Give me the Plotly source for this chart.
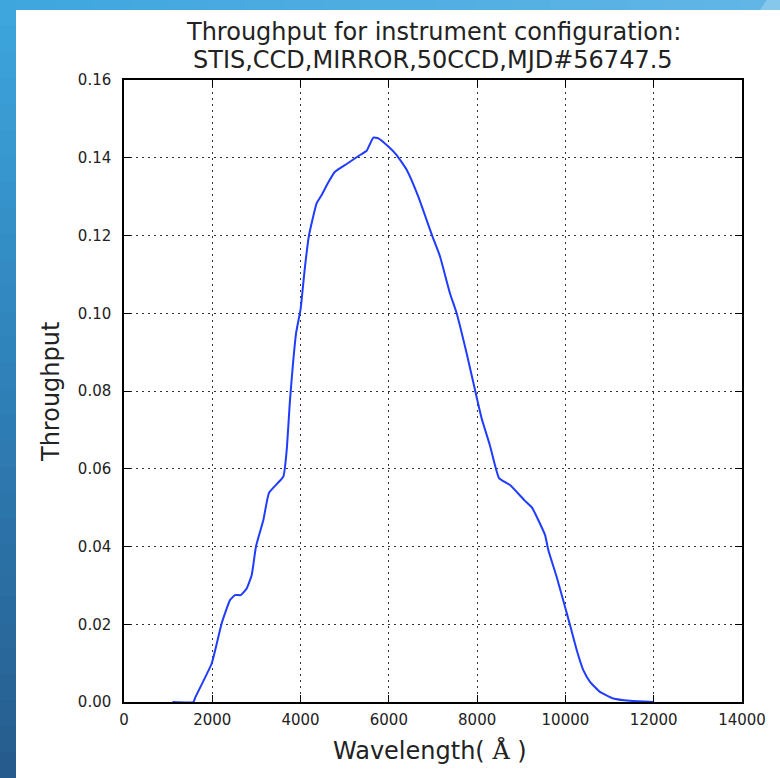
import plotly.graph_objects as go

wavelength = [1100, 1570, 1620, 1986, 2212, 2401, 2515, 2643, 2779, 2892, 2990, 3157, 3285,
              3610, 3685, 3761, 3900, 4000, 4100, 4190, 4365, 4478, 4620, 4780, 5044, 5346, 5497,
              5648, 5761, 5988, 6177, 6403, 6667, 6970, 7159, 7385, 7536, 7762, 7951, 8101,
              8290, 8495, 8745, 9062, 9243, 9537, 9612, 9801, 9990, 10104, 10255, 10405,
              10557, 10783, 11084, 11462, 11990]
throughput = [0.0, 0.0, 0.0013, 0.0099, 0.0202, 0.0262, 0.0275, 0.0275, 0.0292, 0.0326, 0.040,
              0.0468, 0.0538, 0.058, 0.0647, 0.0777, 0.095, 0.101, 0.112, 0.120, 0.1283,
              0.1304, 0.1335, 0.1364, 0.1384, 0.1407, 0.1418, 0.1452, 0.145, 0.1429, 0.1407, 0.1369,
              0.130, 0.1203, 0.1146, 0.1051, 0.100, 0.0897, 0.0803, 0.073, 0.066, 0.0576,
              0.0558, 0.052, 0.050, 0.043, 0.0391, 0.0322, 0.0245, 0.0198, 0.0134, 0.0082,
              0.0052, 0.0026, 0.0009, 0.0003, 0.0]

title_lines = ["Throughput for instrument configuration:", "STIS,CCD,MIRROR,50CCD,MJD#56747.5"]
x_title = "Wavelength( <span style='font-family:DejaVu Serif'>Å</span> )"
y_title = "Throughput"

W, H = 780, 778
L, R, T, B = 124, 38, 80, 76
pw, ph = W - L - R, H - T - B


def px2x(p):
    return (p - L) / pw


def px2y(p):
    return (H - B - p) / ph


def lerp(c1, c2, f):
    return "#" + "".join("%02x" % round(a + (b - a) * f) for a, b in zip(c1, c2))


shapes = []
# left gradient strip
top_c, mid_c, bot_c = (62, 166, 222), (47, 128, 184), (38, 91, 140)
n = 30
for i in range(n):
    y0, y1 = i * H / n, (i + 1) * H / n + 1
    f = (i + 0.5) / n
    c = lerp(top_c, mid_c, f * 2) if f < 0.5 else lerp(mid_c, bot_c, (f - 0.5) * 2)
    shapes.append(dict(type="rect", xref="paper", yref="paper", layer="below",
                       x0=px2x(-2), x1=px2x(16.5), y0=px2y(y0), y1=px2y(y1),
                       line=dict(width=0), fillcolor=c))
# top strip
m = 20
for i in range(m):
    x0, x1 = 16 + i * (W - 16) / m, 16 + (i + 1) * (W - 16) / m + 1
    c = lerp((62, 166, 222), (98, 182, 230), (i + 0.5) / m)
    shapes.append(dict(type="rect", xref="paper", yref="paper", layer="below",
                       x0=px2x(x0), x1=px2x(x1), y0=px2y(-2), y1=px2y(10),
                       line=dict(width=0), fillcolor=c))
shapes.append(dict(type="path", xref="paper", yref="paper", layer="below",
                   path="M %f,%f L %f,%f L %f,%f L %f,%f Z" % (
                       px2x(768), px2y(-2), px2x(782), px2y(-2), px2x(782), px2y(10), px2x(760), px2y(10)),
                   line=dict(width=0), fillcolor="#86c8ec"))
# white panel
shapes.append(dict(type="rect", xref="paper", yref="paper", layer="below",
                   x0=px2x(16), x1=px2x(782), y0=px2y(10), y1=px2y(782),
                   line=dict(width=0), fillcolor="white"))

fig = go.Figure()
fig.add_trace(go.Scatter(x=wavelength, y=throughput, mode="lines",
                         line=dict(color="#1f3cff", width=2, shape="spline", smoothing=0.4),
                         showlegend=False))

axis_common = dict(showline=True, linecolor="black", linewidth=1.5, mirror="ticks",
                   ticks="inside", ticklen=7, tickwidth=1.2, tickcolor="black",
                   showgrid=True, gridcolor="#333333", griddash="2px,4px", gridwidth=1.2,
                   zeroline=False, tickfont=dict(family="DejaVu Sans", size=15, color="#222222"))

fig.update_xaxes(range=[0, 14000], dtick=2000, tick0=0, tickformat="d", ticklabelstandoff=3,
                 **axis_common)
fig.update_yaxes(range=[0, 0.16], dtick=0.02, tick0=0, tickformat=".2f", ticklabelstandoff=8,
                 **axis_common)

font_big = dict(family="DejaVu Sans", size=24, color="#222222")
annotations = [
    dict(text=title_lines[0], x=px2x(433), y=px2y(32), xref="paper", yref="paper",
         xanchor="center", yanchor="middle", showarrow=False, font=font_big),
    dict(text=title_lines[1], x=px2x(433), y=px2y(60), xref="paper", yref="paper",
         xanchor="center", yanchor="middle", showarrow=False, font=font_big),
    dict(text=x_title, x=px2x(430), y=px2y(750), xref="paper", yref="paper",
         xanchor="center", yanchor="middle", showarrow=False, font=font_big),
    dict(text=y_title, x=px2x(51), y=px2y(392), xref="paper", yref="paper",
         xanchor="center", yanchor="middle", showarrow=False, font=font_big, textangle=-90),
]

fig.update_layout(
    width=W, height=H,
    margin=dict(l=L, r=R, t=T, b=B),
    paper_bgcolor="#2f80b8", plot_bgcolor="white",
    shapes=shapes, annotations=annotations,
)

fig.write_html("out.html", post_script="document.body.style.margin='0';",
               config={"displayModeBar": False})
